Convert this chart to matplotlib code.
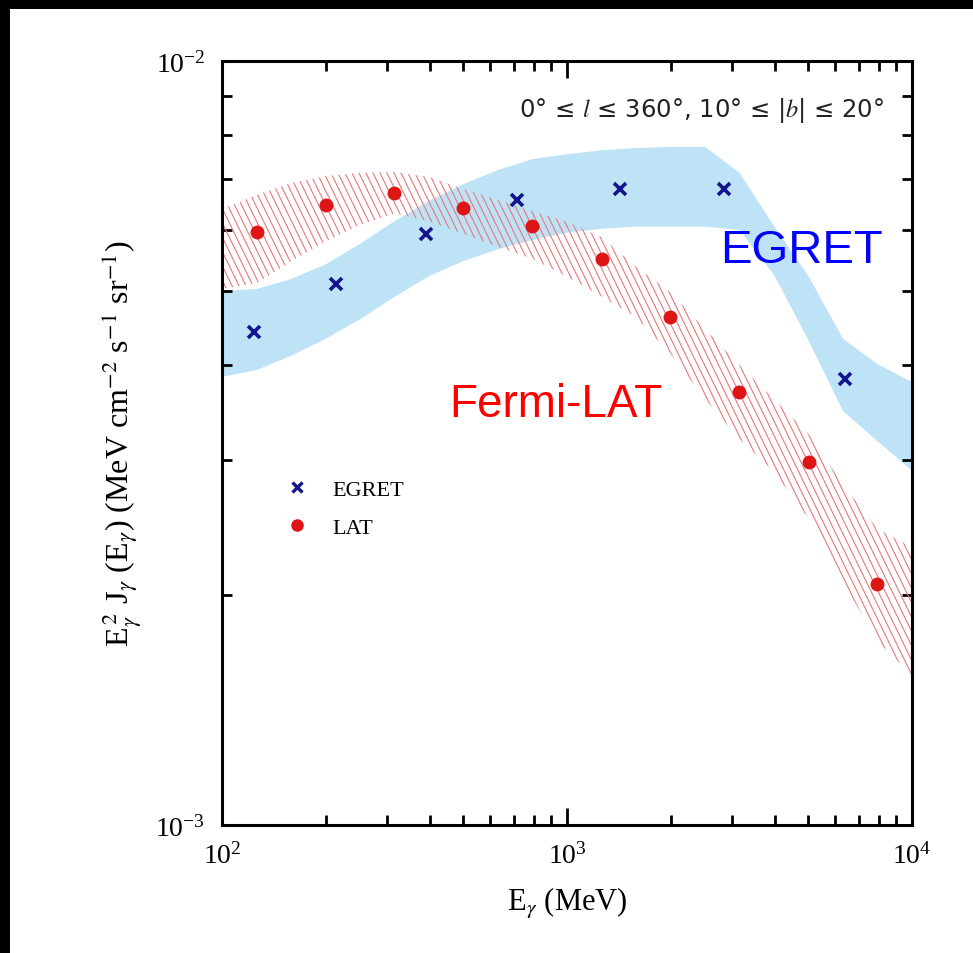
import matplotlib
matplotlib.use("Agg")
import matplotlib.pyplot as plt
import numpy as np
from matplotlib.collections import LineCollection
from matplotlib.lines import Line2D
from matplotlib.patches import Rectangle
from matplotlib.ticker import LogLocator, LogFormatterMathtext, NullFormatter

plt.rcParams["font.family"] = ["Liberation Serif", "DejaVu Serif"]
plt.rcParams["mathtext.fontset"] = "stix"

# data points (MeV, MeV cm^-2 s^-1 sr^-1)
egret_e = [124, 214, 390, 715, 1425, 2851, 6394]
egret_flux = [4.42e-3, 5.10e-3, 5.93e-3, 6.58e-3, 6.80e-3, 6.80e-3, 3.84e-3]

lat_e = [126, 200, 316, 501, 794, 1259, 1995, 3162, 5012, 7943]
lat_flux = [5.98e-3, 6.48e-3, 6.71e-3, 6.43e-3, 6.08e-3, 5.51e-3, 4.62e-3,
            3.69e-3, 2.99e-3, 2.07e-3]

# systematic bands
band_e = [100, 126, 158, 200, 251, 316, 398, 501, 631, 794, 1000, 1259, 1585,
          1995, 2512, 3162, 3981, 5012, 6310, 7943, 10000]
egret_hi = [5.00e-3, 5.03e-3, 5.18e-3, 5.42e-3, 5.76e-3, 6.17e-3, 6.56e-3,
            6.90e-3, 7.20e-3, 7.44e-3, 7.55e-3, 7.64e-3, 7.69e-3, 7.72e-3,
            7.72e-3, 7.14e-3, 6.08e-3, 5.23e-3, 4.33e-3, 4.01e-3, 3.80e-3]
egret_lo = [3.86e-3, 3.94e-3, 4.11e-3, 4.33e-3, 4.59e-3, 4.91e-3, 5.23e-3,
            5.47e-3, 5.67e-3, 5.83e-3, 5.96e-3, 6.03e-3, 6.07e-3, 6.07e-3,
            6.07e-3, 6.01e-3, 5.25e-3, 4.31e-3, 3.48e-3, 3.18e-3, 2.91e-3]
lat_hi = [6.40e-3, 6.68e-3, 6.92e-3, 7.07e-3, 7.14e-3, 7.16e-3, 7.05e-3,
          6.80e-3, 6.58e-3, 6.36e-3, 6.16e-3, 5.88e-3, 5.38e-3, 4.98e-3,
          4.46e-3, 4.00e-3, 3.61e-3, 3.25e-3, 2.79e-3, 2.44e-3, 2.31e-3]
lat_lo = [5.03e-3, 5.12e-3, 5.46e-3, 5.81e-3, 6.10e-3, 6.32e-3, 6.17e-3,
          5.94e-3, 5.71e-3, 5.51e-3, 5.22e-3, 4.92e-3, 4.62e-3, 4.14e-3,
          3.61e-3, 3.20e-3, 2.90e-3, 2.52e-3, 2.08e-3, 1.74e-3, 1.57e-3]

fig = plt.figure(figsize=(9.73, 9.54), dpi=100, facecolor="white")
# black frame strips on the top and left edges of the picture
fig.patches.append(Rectangle((0, 944 / 954), 1, 10 / 954, transform=fig.transFigure,
                             facecolor="black", edgecolor="none", zorder=-10))
fig.patches.append(Rectangle((0, 0), 10 / 973, 1, transform=fig.transFigure,
                             facecolor="black", edgecolor="none", zorder=-10))
ax_pos = [222 / 973, 1 - 826 / 954, 690 / 973, 764 / 954]
ax = fig.add_axes(ax_pos)
ax.set_xscale("log")
ax.set_yscale("log")
ax.set_xlim(1e2, 1e4)
ax.set_ylim(1e-3, 1e-2)

# EGRET band (solid light blue)
ax.fill_between(band_e, egret_lo, egret_hi, facecolor="#bee2f6",
                edgecolor="none", zorder=1)

# LAT band (steep red hatching)
lat_poly = ax.fill_between(band_e, lat_lo, lat_hi, facecolor="none",
                           edgecolor="none", zorder=2)
w_px = fig.get_figwidth() * fig.dpi * ax_pos[2]
h_px = fig.get_figheight() * fig.dpi * ax_pos[3]
angle = np.deg2rad(64)
shift = h_px / np.tan(angle)
segs = []
for x0 in np.arange(-shift, w_px + 7, 7.0):
    segs.append([(x0 / w_px, 1.0), ((x0 + shift) / w_px, 0.0)])
hatch = LineCollection(segs, colors="#e8787a", linewidths=0.8,
                       transform=ax.transAxes, zorder=2)
ax.add_collection(hatch)
hatch.set_clip_path(lat_poly.get_paths()[0], ax.transData)

ax.plot(egret_e, egret_flux, linestyle="none", marker="x", color="#14148c",
        markersize=9, markeredgewidth=2.6, zorder=4)
ax.plot(lat_e, lat_flux, linestyle="none", marker="o", color="#dd1515",
        markersize=9, zorder=4)

ax.text(2773, 5.46e-3, "EGRET", color="#0000ff", fontsize=34,
        family="Liberation Sans", ha="left", va="baseline", zorder=5)
ax.text(455, 3.43e-3, "Fermi-LAT", color="#ff0000", fontsize=33,
        family="Liberation Sans", ha="left", va="baseline", zorder=5)
ax.text(0.96, 0.937, r"0° ≤ $l$ ≤ 360°, 10° ≤ |$b$| ≤ 20°", transform=ax.transAxes,
        family="DejaVu Sans", fontsize=17.5, ha="right", va="center", color="#222222")

handles = [Line2D([], [], linestyle="none", marker="x", color="#14148c",
                  markersize=7, markeredgewidth=2.4),
           Line2D([], [], linestyle="none", marker="o", color="#dd1515",
                  markersize=8)]
ax.legend(handles, ["EGRET", "LAT"], loc="upper left",
          bbox_to_anchor=(0.093, 0.452), frameon=False, fontsize=16,
          handlelength=1.0, handletextpad=1.1, labelspacing=0.78,
          borderpad=0, borderaxespad=0)

for side in ax.spines.values():
    side.set_linewidth(2.2)
ax.xaxis.set_major_locator(LogLocator(base=10))
ax.yaxis.set_major_locator(LogLocator(base=10))
ax.xaxis.set_minor_locator(LogLocator(base=10, subs=np.arange(2, 10)))
ax.yaxis.set_minor_locator(LogLocator(base=10, subs=np.arange(2, 10)))
ax.xaxis.set_major_formatter(LogFormatterMathtext())
ax.yaxis.set_major_formatter(LogFormatterMathtext())
ax.xaxis.set_minor_formatter(NullFormatter())
ax.yaxis.set_minor_formatter(NullFormatter())
ax.tick_params(which="both", direction="in", top=True, right=True,
               labelsize=20, pad=12, width=2, color="black")
ax.tick_params(which="major", length=12)
ax.tick_params(which="minor", length=7)

ax.set_xlabel(r"E$_\gamma$ (MeV)", fontsize=22, labelpad=12)
ax.set_ylabel(r"E$_\gamma^{\,2}$ J$_\gamma$ (E$_\gamma$) (MeV cm$^{-2}$ s$^{-1}$ sr$^{-1}$)",
              fontsize=23, labelpad=8)

fig.savefig("out.png", dpi=100, facecolor=fig.get_facecolor())
